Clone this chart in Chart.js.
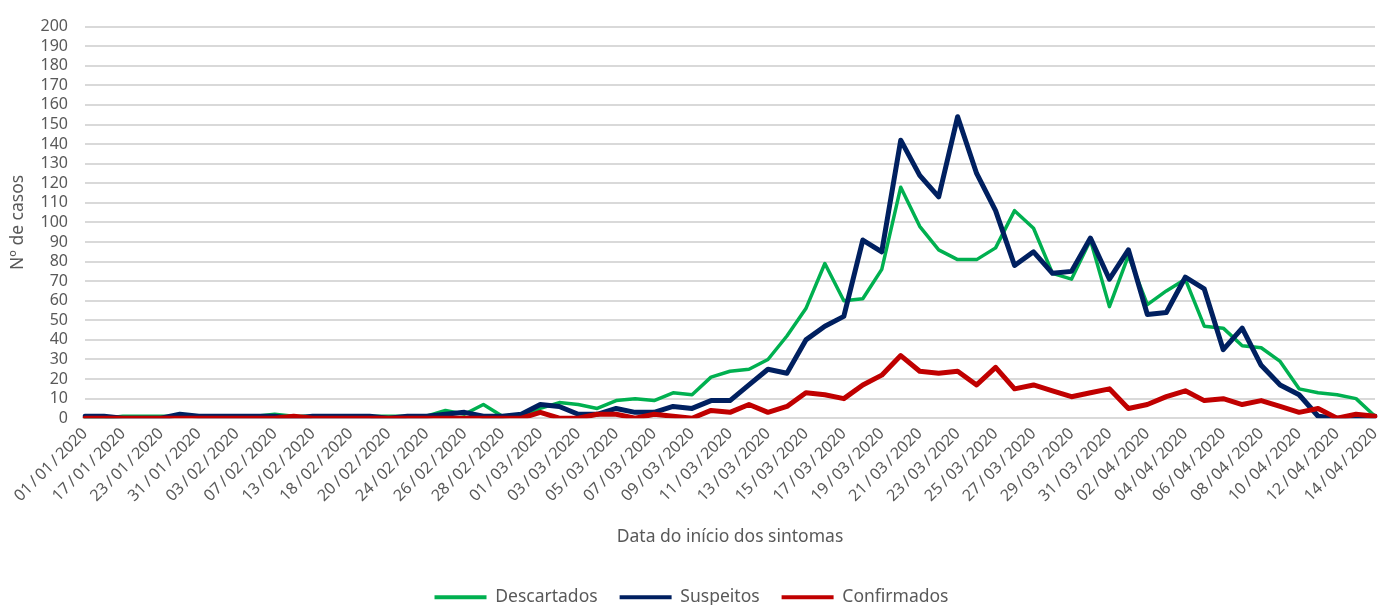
<!DOCTYPE html>
<html lang="pt">
<head>
    <meta charset="UTF-8">
    <title>Casos por data do início dos sintomas</title>
    <style>
body {
    margin: 0;
    padding: 0;
    background: #fff;
}
.container {
    width: 1378px;
    height: 605px;
}
    </style>
    <script src="https://cdn.jsdelivr.net/npm/chart.js@4.4.1/dist/chart.umd.min.js"></script>
</head>
<body>
    <div class="container">
        <canvas id="casosChart" width="1378" height="605"></canvas>
    </div>

    <script>
        // Datas do início dos sintomas (só as datas pares aparecem no eixo)
        const dates = [
            '01/01/2020', '15/01/2020', '17/01/2020', '20/01/2020', '23/01/2020', '28/01/2020',
            '31/01/2020', '01/02/2020', '03/02/2020', '05/02/2020', '07/02/2020', '10/02/2020',
            '13/02/2020', '16/02/2020', '18/02/2020', '19/02/2020', '20/02/2020', '22/02/2020',
            '24/02/2020', '25/02/2020', '26/02/2020', '27/02/2020', '28/02/2020', '29/02/2020',
            '01/03/2020', '02/03/2020', '03/03/2020', '04/03/2020', '05/03/2020', '06/03/2020',
            '07/03/2020', '08/03/2020', '09/03/2020', '10/03/2020', '11/03/2020', '12/03/2020',
            '13/03/2020', '14/03/2020', '15/03/2020', '16/03/2020', '17/03/2020', '18/03/2020',
            '19/03/2020', '20/03/2020', '21/03/2020', '22/03/2020', '23/03/2020', '24/03/2020',
            '25/03/2020', '26/03/2020', '27/03/2020', '28/03/2020', '29/03/2020', '30/03/2020',
            '31/03/2020', '01/04/2020', '02/04/2020', '03/04/2020', '04/04/2020', '05/04/2020',
            '06/04/2020', '07/04/2020', '08/04/2020', '09/04/2020', '10/04/2020', '11/04/2020',
            '12/04/2020', '13/04/2020', '14/04/2020'
        ];

        const descartados = [
            0, 0, 1, 1, 1, 1, 1, 1, 1, 1, 2, 1, 1, 1, 1, 1, 1, 1, 1, 4, 2, 7, 1, 1,
            5, 8, 7, 5, 9, 10, 9, 13, 12, 21, 24, 25, 30, 42, 56, 79, 60, 61, 76, 118,
            98, 86, 81, 81, 87, 106, 97, 74, 71, 91, 57, 83, 58, 65, 71, 47, 46, 37, 36, 29,
            15, 13, 12, 10, 1
        ];

        const suspeitos = [
            1, 1, 0, 0, 0, 2, 1, 1, 1, 1, 1, 0, 1, 1, 1, 1, 0, 1, 1, 2, 3, 1, 1, 2,
            7, 6, 2, 2, 5, 3, 3, 6, 5, 9, 9, 17, 25, 23, 40, 47, 52, 91, 85, 142,
            124, 113, 154, 125, 106, 78, 85, 74, 75, 92, 71, 86, 53, 54, 72, 66, 35, 46, 27, 17,
            12, 1, 0, 0, 1
        ];

        const confirmados = [
            0, 0, 0, 0, 0, 0, 0, 0, 0, 0, 0, 1, 0, 0, 0, 0, 0, 0, 0, 0, 0, 0, 0, 0,
            3, 0, 0, 2, 2, 0, 2, 1, 0, 4, 3, 7, 3, 6, 13, 12, 10, 17, 22, 32,
            24, 23, 24, 17, 26, 15, 17, 14, 11, 13, 15, 5, 7, 11, 14, 9, 10, 7, 9, 6,
            3, 5, 0, 2, 1
        ];

        const textColor = '#595959';
        const gridColor = '#d9d9d9';
        Chart.defaults.font.family = '"Noto Sans", sans-serif';
        Chart.defaults.font.size = 16;
        Chart.defaults.color = textColor;

        const ctx = document.getElementById('casosChart').getContext('2d');
        new Chart(ctx, {
            type: 'line',
            data: {
                labels: dates,
                datasets: [
                    {
                        label: 'Descartados',
                        data: descartados,
                        borderColor: '#00b050',
                        backgroundColor: '#00b050',
                        borderWidth: 3.5,
                        order: 3
                    },
                    {
                        label: 'Suspeitos',
                        data: suspeitos,
                        borderColor: '#002060',
                        backgroundColor: '#002060',
                        borderWidth: 5,
                        order: 2
                    },
                    {
                        label: 'Confirmados',
                        data: confirmados,
                        borderColor: '#c00000',
                        backgroundColor: '#c00000',
                        borderWidth: 5,
                        order: 1
                    }
                ]
            },
            options: {
                responsive: false,
                animation: false,
                layout: {
                    padding: { top: 16, left: 8, right: 3, bottom: -11 }
                },
                elements: {
                    point: { radius: 0 },
                    line: { tension: 0, borderJoinStyle: 'round', borderCapStyle: 'round' }
                },
                plugins: {
                    legend: {
                        position: 'bottom',
                        labels: {
                            boxWidth: 52,
                            boxHeight: 4,
                            padding: 22,
                            font: { size: 17.5 },
                            sort: (a, b) => a.datasetIndex - b.datasetIndex,
                            generateLabels: chart =>
                                Chart.defaults.plugins.legend.labels.generateLabels(chart)
                                    .map(item => ({ ...item, lineWidth: 0 }))
                        }
                    },
                    tooltip: { enabled: false }
                },
                scales: {
                    x: {
                        grid: { display: false, drawTicks: false },
                        border: { color: gridColor, width: 2 },
                        ticks: {
                            autoSkip: false,
                            maxRotation: 45,
                            minRotation: 45,
                            padding: 6,
                            callback: function (value, index) {
                                if (index % 2 !== 0) return '';
                                return this.getLabelForValue(value).split('/').join('\u2009/\u2009');
                            }
                        },
                        title: {
                            display: true,
                            text: 'Data do início dos sintomas',
                            font: { size: 17.5 },
                            padding: { top: 15, bottom: 19 }
                        },
                        afterFit: scale => { scale.paddingRight = 0; }
                    },
                    y: {
                        min: 0,
                        max: 200,
                        grid: { color: gridColor, lineWidth: 2, drawTicks: false },
                        border: { display: false },
                        ticks: { stepSize: 10, padding: 17, autoSkip: false },
                        title: {
                            display: true,
                            text: 'Nº de casos',
                            font: { size: 17.5 },
                            padding: { top: 0, bottom: 0 }
                        },
                        afterFit: scale => { scale.width = 77; }
                    }
                }
            }
        });
    </script>
</body>
</html>
